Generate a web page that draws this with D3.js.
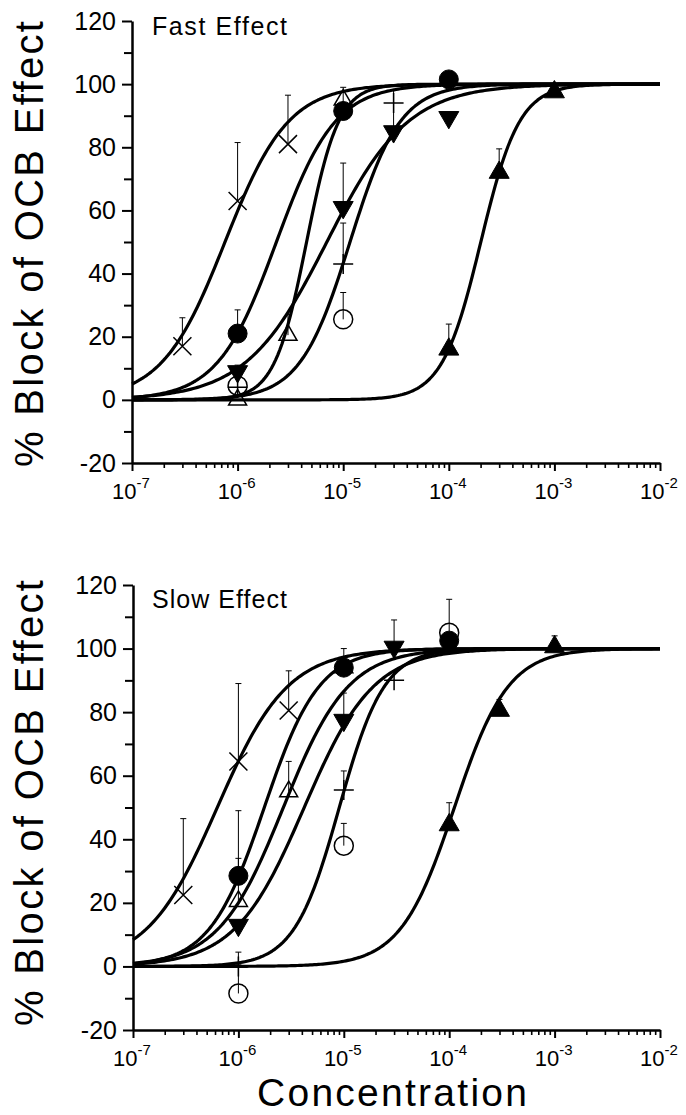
<!DOCTYPE html>
<meta charset="utf-8">
<script src="https://d3js.org/d3.v7.min.js"></script>
<style>
  body { margin: 0; background: #fff; }
  svg text { font-family: "Liberation Sans", Arial, Helvetica, sans-serif; fill: #000; }
</style>
<div id="chart"></div>
<script>
// concentrations in M, responses in % block of the OCB effect
// err = upper error bar length (0 = none drawn)

// ---- Fast effect: data points ----
const fastCrossConc = [3e-7, 1e-6, 3e-6], fastCrossVal = [17, 63, 81], fastCrossErr = [9, 18.5, 15.5];
const fastDotConc = [1e-6, 1e-5, 1e-4], fastDotVal = [21, 91.5, 101.5], fastDotErr = [7.5, 7.5, 0];
const fastTriOpenConc = [1e-6, 3e-6, 1e-5], fastTriOpenVal = [0, 20.5, 95], fastTriOpenErr = [0, 6.5, 0];
const fastTriDownConc = [1e-6, 1e-5, 3e-5, 1e-4], fastTriDownVal = [9, 61, 85, 89.5], fastTriDownErr = [2, 14, 13, 0];
const fastPlusConc = [1e-6, 1e-5, 3e-5], fastPlusVal = [4, 43, 94], fastPlusErr = [0, 13, 0];
const fastCircOpenConc = [1e-6, 1e-5], fastCircOpenVal = [4.5, 25.5], fastCircOpenErr = [0, 8.5];
const fastTriUpConc = [1e-4, 3e-4, 1e-3], fastTriUpVal = [16, 72, 97.5], fastTriUpErr = [8, 7.5, 1];

// ---- Slow effect: data points ----
const slowCrossConc = [3e-7, 1e-6, 3e-6], slowCrossVal = [22.5, 64.5, 80.5], slowCrossErr = [24, 24.5, 12.5];
const slowDotConc = [1e-6, 1e-5, 1e-4], slowDotVal = [28.5, 94, 102.5], slowDotErr = [20.5, 6, 0];
const slowTriOpenConc = [1e-6, 3e-6, 1e-5], slowTriOpenVal = [20.5, 55, 94], slowTriOpenErr = [13.5, 9.5, 0];
const slowTriDownConc = [1e-6, 1e-5, 3e-5], slowTriDownVal = [13, 77.5, 100.5], slowTriDownErr = [0, 8.5, 8.5];
const slowPlusConc = [1e-6, 1e-5, 3e-5], slowPlusVal = [0, 55.5, 90], slowPlusErr = [4.5, 6, 0];
const slowCircOpenConc = [1e-6, 1e-5, 1e-4], slowCircOpenVal = [-8.5, 38, 105], slowCircOpenErr = [9, 7, 10.5];
const slowTriUpConc = [1e-4, 3e-4, 1e-3], slowTriUpVal = [44.5, 80.5, 100.5], slowTriUpErr = [7, 3.5, 3.5];

// ---- fitted dose-response curves (EC50, Hill slope) ----
const fitKeys = ["cross", "dot", "triOpen", "triDown", "plus", "triUp"];
const fastEC50 = [7.6e-7, 2.33e-6, 4.5e-6, 7.0e-6, 1.16e-5, 2.01e-4];
const fastHill = [1.45, 1.56, 2.86, 1.13, 1.83, 2.37];
const slowEC50 = [6.3e-7, 1.76e-6, 2.67e-6, 4.21e-6, 9.06e-6, 1.12e-4];
const slowHill = [1.3, 1.67, 1.41, 1.32, 2.03, 1.7];

// ---- axes ----
const yMajorTicks = [-20, 0, 20, 40, 60, 80, 100, 120];
const yMinorTicks = [-10, 10, 30, 50, 70, 90, 110];
const xDecades = [1e-7, 1e-6, 1e-5, 1e-4, 1e-3, 1e-2];
const xDecadeLabels = ["-7", "-6", "-5", "-4", "-3", "-2"];

const drawOrder = ["circOpen", "plus", "triOpen", "triDown", "dot", "cross", "triUp"];

function table(c, v, e) { return c.map((d, i) => ({c: d, v: v[i], e: e[i]})); }

const fastPoints = {
  cross: table(fastCrossConc, fastCrossVal, fastCrossErr),
  dot: table(fastDotConc, fastDotVal, fastDotErr),
  triOpen: table(fastTriOpenConc, fastTriOpenVal, fastTriOpenErr),
  triDown: table(fastTriDownConc, fastTriDownVal, fastTriDownErr),
  plus: table(fastPlusConc, fastPlusVal, fastPlusErr),
  circOpen: table(fastCircOpenConc, fastCircOpenVal, fastCircOpenErr),
  triUp: table(fastTriUpConc, fastTriUpVal, fastTriUpErr)
};
const slowPoints = {
  cross: table(slowCrossConc, slowCrossVal, slowCrossErr),
  dot: table(slowDotConc, slowDotVal, slowDotErr),
  triOpen: table(slowTriOpenConc, slowTriOpenVal, slowTriOpenErr),
  triDown: table(slowTriDownConc, slowTriDownVal, slowTriDownErr),
  plus: table(slowPlusConc, slowPlusVal, slowPlusErr),
  circOpen: table(slowCircOpenConc, slowCircOpenVal, slowCircOpenErr),
  triUp: table(slowTriUpConc, slowTriUpVal, slowTriUpErr)
};

const svg = d3.select("#chart").append("svg")
  .attr("width", 686).attr("height", 1115);

// marker shapes
function markerPath(key) {
  const tri = (w, up) => {
    const h = w * 0.866, s = up ? 1 : -1;
    return `M0,${-s * h * 2 / 3}L${w / 2},${s * h / 3}L${-w / 2},${s * h / 3}Z`;
  };
  switch (key) {
    case "cross": return "M-9,-9L9,9M-9,9L9,-9";
    case "plus": return "M-10,0H10M0,-10V10";
    case "dot": return d3.symbol(d3.symbolCircle, Math.PI * 9.5 * 9.5)();
    case "circOpen": return d3.symbol(d3.symbolCircle, Math.PI * 9.5 * 9.5)();
    case "triOpen": return tri(18, true);
    case "triDown": return tri(20, false);
    case "triUp": return tri(20, true);
  }
}
const filled = {dot: true, triDown: true, triUp: true};

function drawPanel(o) {
  const x = d3.scaleLog().domain([1e-7, 1e-2]).range(o.xr);
  const y = d3.scaleLinear().domain([-20, 120]).range(o.yr);
  const g = svg.append("g");

  // y axis
  g.append("g").attr("transform", `translate(${o.xr[0]},0)`)
    .call(d3.axisLeft(y).tickValues(yMinorTicks).tickSize(8).tickSizeOuter(0).tickFormat(""))
    .call(a => a.select(".domain").remove())
    .selectAll("line").attr("stroke-width", 2);
  const ya = g.append("g").attr("transform", `translate(${o.xr[0]},0)`)
    .call(d3.axisLeft(y).tickValues(yMajorTicks).tickSize(10).tickSizeOuter(0)
      .tickPadding(6).tickFormat(d => String(d)));
  ya.select(".domain").attr("stroke-width", 2.5);
  ya.selectAll("line").attr("stroke-width", 2);
  ya.selectAll("text").attr("font-size", 25)
    .attr("font-family", "Liberation Sans, Arial, sans-serif");

  // x axis
  const minor = [];
  xDecades.slice(0, -1).forEach(d => { for (let k = 2; k <= 9; k++) minor.push(d * k); });
  g.append("g").attr("transform", `translate(0,${o.yr[0]})`)
    .call(d3.axisBottom(x).tickValues(minor).tickSize(5).tickSizeOuter(0).tickFormat(""))
    .call(a => a.select(".domain").remove())
    .selectAll("line").attr("stroke-width", 1.6);
  const xa = g.append("g").attr("transform", `translate(0,${o.yr[0]})`)
    .call(d3.axisBottom(x).tickValues(xDecades).tickSize(8).tickSizeOuter(0).tickFormat(""));
  xa.select(".domain").attr("stroke-width", 2.5);
  xa.selectAll("line").attr("stroke-width", 2);

  const lab = g.append("g").selectAll("text").data(xDecades).join("text")
    .attr("x", d => x(d) - 1).attr("y", o.yr[0] + 36)
    .attr("text-anchor", "middle").attr("font-size", 22);
  lab.append("tspan").text("10");
  lab.append("tspan").attr("font-size", 15).attr("dy", -11)
    .text((d, i) => xDecadeLabels[i]);

  // curves
  const logs = d3.range(-7, -1.999, 0.02);
  const line = d3.line().x(d => x(d[0])).y(d => y(d[1]));
  fitKeys.forEach((k, i) => {
    const pts = logs.map(l => {
      const c = Math.pow(10, l);
      return [c, 100 / (1 + Math.pow(o.ec50[i] / c, o.hill[i]))];
    });
    g.append("path").datum(pts).attr("d", line)
      .attr("fill", "none").attr("stroke", "#000").attr("stroke-width", 3.2)
      .attr("stroke-linejoin", "round");
  });

  // error bars + markers
  drawOrder.forEach(k => {
    const pts = o.points[k];
    const eb = g.append("g").attr("stroke", "#000").attr("stroke-width", 1);
    pts.filter(d => d.e > 0).forEach(d => {
      eb.append("line").attr("x1", x(d.c)).attr("x2", x(d.c))
        .attr("y1", y(d.v)).attr("y2", y(d.v + d.e));
      eb.append("line").attr("x1", x(d.c) - 3).attr("x2", x(d.c) + 3)
        .attr("y1", y(d.v + d.e)).attr("y2", y(d.v + d.e));
    });
    g.append("g").selectAll("path").data(pts).join("path")
      .attr("transform", d => `translate(${x(d.c)},${y(d.v)})`)
      .attr("d", markerPath(k))
      .attr("fill", filled[k] ? "#000" : "none")
      .attr("stroke", "#000")
      .attr("stroke-width", filled[k] ? 1 : 1.5);
  });

  g.append("text").attr("x", 152).attr("y", o.titleY)
    .attr("font-size", 25).attr("textLength", 135).attr("lengthAdjust", "spacing")
    .text(o.title);

  g.append("text")
    .attr("transform", `translate(43,${o.labelY}) rotate(-90)`)
    .attr("text-anchor", "middle").attr("font-size", 40)
    .attr("textLength", 446).attr("lengthAdjust", "spacing")
    .text("% Block of OCB Effect");
}

drawPanel({xr: [132, 660], yr: [463, 21], points: fastPoints,
  ec50: fastEC50, hill: fastHill, title: "Fast Effect", titleY: 35, labelY: 244});
drawPanel({xr: [133, 660], yr: [1030, 585], points: slowPoints,
  ec50: slowEC50, hill: slowHill, title: "Slow Effect", titleY: 608, labelY: 803});

svg.append("text").attr("x", 392).attr("y", 1106)
  .attr("text-anchor", "middle").attr("font-size", 39)
  .attr("textLength", 270).attr("lengthAdjust", "spacing")
  .text("Concentration");
</script>
